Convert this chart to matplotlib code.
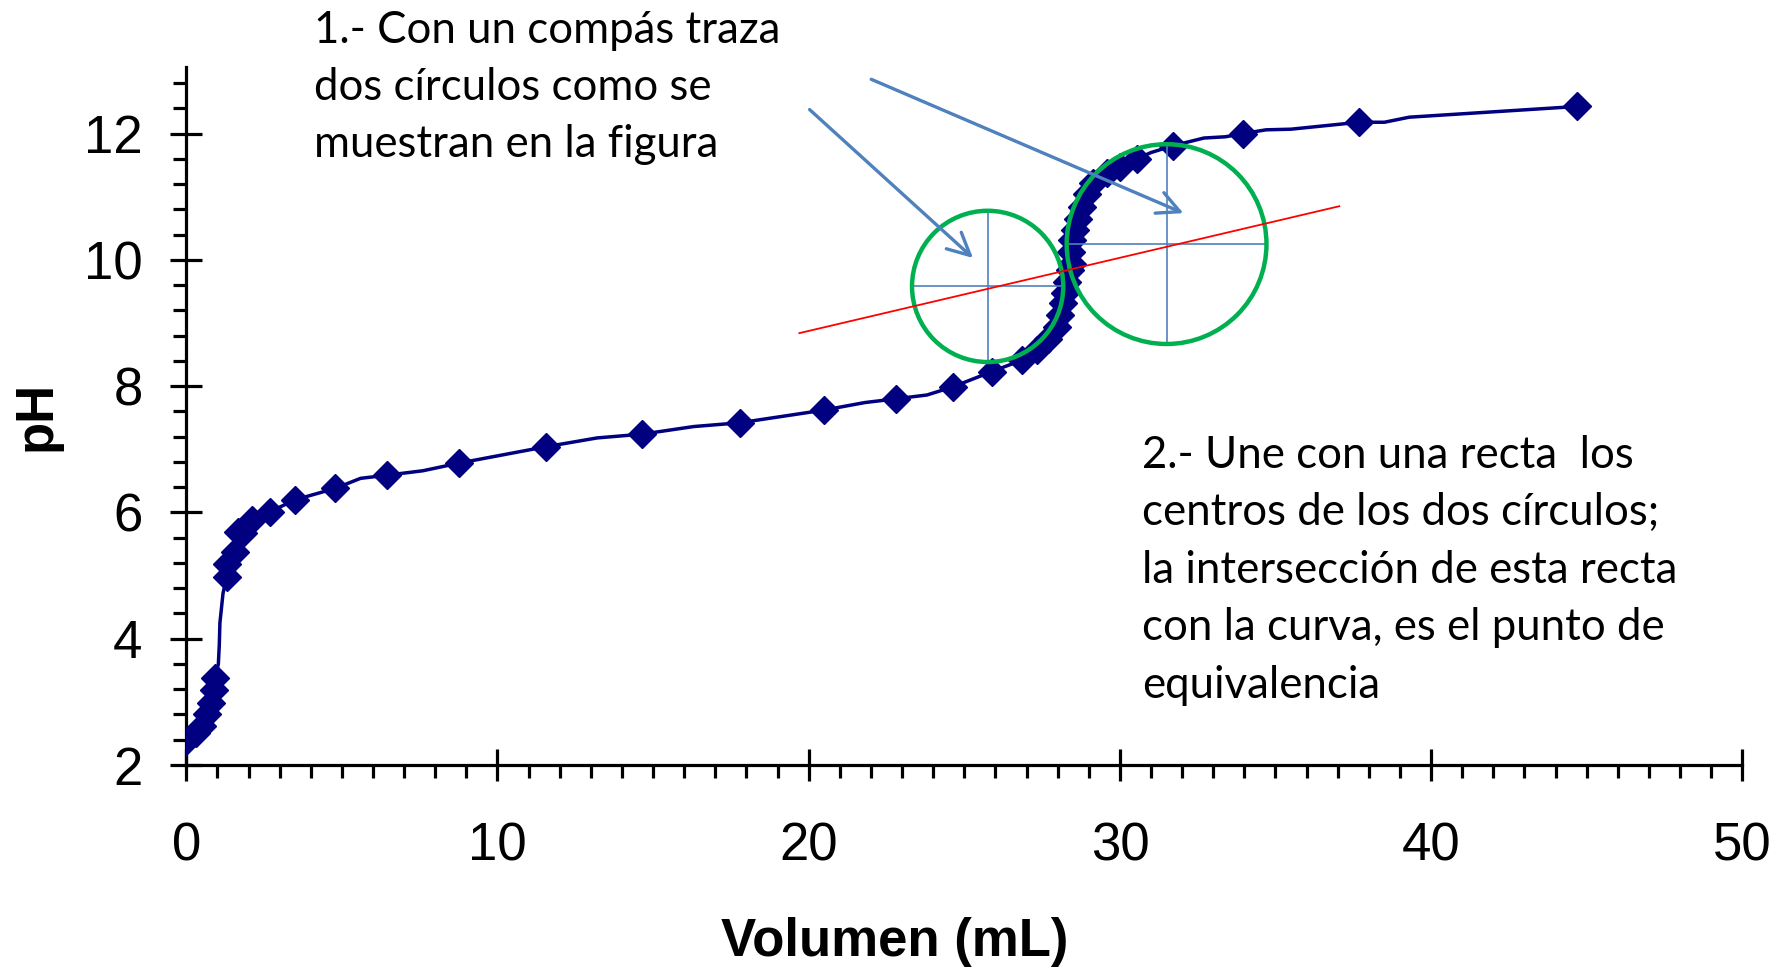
import numpy as np
import matplotlib
matplotlib.use('Agg')
import matplotlib.pyplot as plt
from matplotlib.patches import Ellipse
from matplotlib.ticker import MultipleLocator

plt.rcParams['font.family'] = ['Liberation Sans', 'DejaVu Sans']

# titration points (marker series)
vol = [0.0, 0.3, 0.5, 0.65, 0.8, 0.9, 0.93,
       1.30, 1.30, 1.56, 1.67, 1.83, 2.10, 2.69, 3.49, 4.78, 6.45, 8.75,
       11.55, 14.65, 17.78, 20.48, 22.81, 24.64, 25.88, 26.84, 27.33, 27.70,
       27.97, 28.07, 28.18, 28.24, 28.29, 28.40, 28.45, 28.42, 28.47, 28.55,
       28.65, 28.78, 28.95, 29.15, 29.6, 30.0, 30.54, 31.72, 33.95, 37.69, 44.70]
ph = [2.38, 2.50, 2.62, 2.80, 2.98, 3.18, 3.38,
      4.98, 5.19, 5.38, 5.69, 5.67, 5.88, 6.01, 6.20, 6.38, 6.59, 6.78,
      7.04, 7.24, 7.42, 7.62, 7.80, 7.99, 8.23, 8.41, 8.57, 8.75,
      8.94, 9.12, 9.31, 9.47, 9.65, 9.84, 9.94, 10.12, 10.31, 10.47,
      10.65, 10.84, 11.05, 11.21, 11.37, 11.47, 11.60, 11.81, 12.00, 12.18, 12.43]

# smoothed curve drawn through the points
curve_vol = [0.0, 0.3, 0.5, 0.65, 0.8, 0.9, 0.93, 1.03, 1.06, 1.08, 1.18, 1.30,
             1.35, 1.56, 1.75, 2.10, 2.69, 3.49, 4.78, 5.6, 6.45, 7.6, 8.75,
             11.55, 13.2, 14.65, 16.3, 17.78, 20.48, 21.8, 22.81, 23.8, 24.64,
             25.88, 26.84, 27.33, 27.70, 27.97, 28.07, 28.18, 28.24, 28.29,
             28.40, 28.45, 28.42, 28.47, 28.55, 28.65, 28.78, 28.95, 29.15,
             29.6, 30.0, 30.54, 31.0, 31.72, 32.7, 33.4, 33.95, 34.7, 35.5,
             37.69, 38.5, 39.3, 44.70]
curve_ph = [2.38, 2.50, 2.62, 2.80, 2.98, 3.18, 3.38, 3.60, 3.90, 4.25, 4.72, 4.98,
            5.19, 5.38, 5.62, 5.88, 6.01, 6.20, 6.38, 6.54, 6.59, 6.66, 6.78,
            7.04, 7.18, 7.24, 7.36, 7.42, 7.62, 7.74, 7.80, 7.86, 7.99,
            8.23, 8.41, 8.57, 8.75, 8.94, 9.12, 9.31, 9.47, 9.65,
            9.84, 9.94, 10.12, 10.31, 10.47, 10.65, 10.84, 11.05, 11.21,
            11.37, 11.47, 11.60, 11.70, 11.81, 11.93, 11.95, 12.00, 12.06, 12.07,
            12.18, 12.18, 12.26, 12.43]

# construction: circles (centre vol, centre pH, radius in mL) and line
circ_x = [25.75, 31.50]
circ_y = [9.58, 10.25]
circ_r = [2.43, 3.21]
line_x = [19.7, 37.05]
line_y = [8.84, 10.85]
arrow_from = [(20.03, 12.38), (22.01, 12.86)]
arrow_to = [(25.28, 10.03), (32.04, 10.74)]

text1 = ['1.- Con un compás traza', 'dos círculos como se',
         'muestran en la figura']
text2 = ['2.- Une con una recta  los', 'centros de los dos círculos;',
         'la intersección de esta recta', 'con la curva, es el punto de',
         'equivalencia']

fig = plt.figure(figsize=(17.79, 9.68), dpi=100)
ax = fig.add_axes([0.10472, 0.20971, 0.87465, 0.72076])
ax.set_xlim(0, 50)
ax.set_ylim(2, 13.05)

for s in ['top', 'right']:
    ax.spines[s].set_visible(False)
for s in ['left', 'bottom']:
    ax.spines[s].set_linewidth(2.3)

ax.xaxis.set_major_locator(MultipleLocator(10))
ax.xaxis.set_minor_locator(MultipleLocator(1))
ax.yaxis.set_major_locator(MultipleLocator(2))
ax.yaxis.set_minor_locator(MultipleLocator(0.4))
ax.tick_params(which='major', direction='inout', length=23, width=2.3,
               labelsize=38)
ax.tick_params(which='minor', direction='out', length=9.5, width=2.3)
ax.tick_params(axis='x', which='major', pad=29)
ax.tick_params(axis='y', which='major', pad=20)

ax.set_xlabel('Volumen (mL)', fontsize=38, fontweight='bold', labelpad=33)
ax.set_ylabel('pH', fontsize=38, fontweight='bold', labelpad=16)
ax.xaxis.label.set_x(0.455)

ax.plot(curve_vol, curve_ph, color='#000080', lw=2.5, zorder=3)
ax.plot(vol, ph, linestyle='none', marker='D', ms=14, color='#000080',
        zorder=4)

# circles: keep them round on screen
fig.canvas.draw()
p0 = ax.transData.transform((0, 2))
p1 = ax.transData.transform((1, 3))
ratio = (p1[0] - p0[0]) / (p1[1] - p0[1])
blue = '#4F81BD'
for cx, cy, r in zip(circ_x, circ_y, circ_r):
    ry = r * ratio
    ax.add_patch(Ellipse((cx, cy), 2 * r, 2 * ry, fill=False,
                         edgecolor='#00B050', lw=3.2, zorder=6))
    ax.plot([cx - r, cx + r], [cy, cy], color=blue, lw=1.2, zorder=5)
    ax.plot([cx, cx], [cy - ry, cy + ry], color=blue, lw=1.2, zorder=5)

ax.plot(line_x, line_y, color='red', lw=1.3, zorder=7)

for a, b in zip(arrow_from, arrow_to):
    ax.annotate('', xy=b, xytext=a,
                arrowprops=dict(arrowstyle='->,head_length=0.8,head_width=0.4',
                                color=blue, lw=2.4, mutation_scale=20,
                                shrinkA=0, shrinkB=0), zorder=8)

tfont = ['Lato', 'DejaVu Sans']
for i, t in enumerate(text1):
    fig.text(0.1763, 1 - (43.3 + 57.0 * i) / 968, t, fontsize=31.5,
             family=tfont, va='baseline', ha='left')
for i, t in enumerate(text2):
    fig.text(0.6422, 1 - (467.6 + 57.6 * i) / 968, t, fontsize=31.5,
             family=tfont, va='baseline', ha='left')

fig.savefig('out.png', dpi=100)
